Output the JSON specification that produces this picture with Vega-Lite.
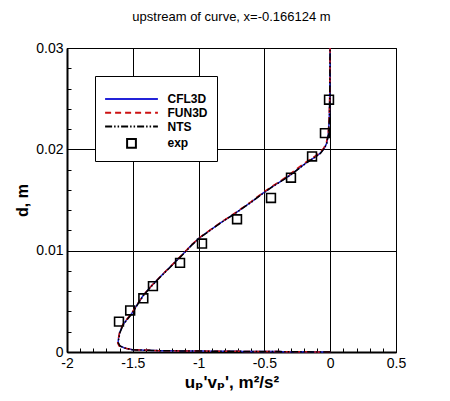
{
  "$schema": "https://vega.github.io/schema/vega-lite/v6.json",
  "width": 329,
  "height": 304,
  "autosize": {"type": "none"},
  "padding": {"left": 67, "top": 48, "right": 54, "bottom": 49},
  "background": "white",
  "title": {"text": "upstream of curve, x=-0.166124 m", "font": "Liberation Sans", "fontSize": 13, "fontWeight": "normal", "color": "black", "anchor": "middle", "baseline": "alphabetic", "offset": 7},
  "config": {
    "view": {"stroke": "black", "strokeWidth": 1},
    "axis": {
      "domainColor": "black", "domainWidth": 2,
      "tickColor": "black", "tickWidth": 1,
      "gridColor": "black", "gridWidth": 1,
      "labelFont": "Liberation Sans", "labelFontSize": 14, "labelColor": "black",
      "labelOverlap": false, "labelFlush": false,
      "titleFont": "Liberation Sans, DejaVu Sans", "titleFontWeight": "bold", "titleColor": "black"
    }
  },
  "resolve": {"axis": {"x": "independent", "y": "independent"}},
  "datasets": {
    "sim": [
      {"s": "CFL3D", "u": 0, "d": 0},
      {"s": "CFL3D", "u": -0.4, "d": 0.00004},
      {"s": "CFL3D", "u": -0.9, "d": 0.00008},
      {"s": "CFL3D", "u": -1.3, "d": 0.00013},
      {"s": "CFL3D", "u": -1.5, "d": 0.00022},
      {"s": "CFL3D", "u": -1.56, "d": 0.00038},
      {"s": "CFL3D", "u": -1.6, "d": 0.0006},
      {"s": "CFL3D", "u": -1.612, "d": 0.0009},
      {"s": "CFL3D", "u": -1.609, "d": 0.0013},
      {"s": "CFL3D", "u": -1.6, "d": 0.0019},
      {"s": "CFL3D", "u": -1.575, "d": 0.0027},
      {"s": "CFL3D", "u": -1.545, "d": 0.0032},
      {"s": "CFL3D", "u": -1.508, "d": 0.0038},
      {"s": "CFL3D", "u": -1.465, "d": 0.0047},
      {"s": "CFL3D", "u": -1.42, "d": 0.0056},
      {"s": "CFL3D", "u": -1.36, "d": 0.0065},
      {"s": "CFL3D", "u": -1.293, "d": 0.0074},
      {"s": "CFL3D", "u": -1.2, "d": 0.0086},
      {"s": "CFL3D", "u": -1.116, "d": 0.0097},
      {"s": "CFL3D", "u": -1.05, "d": 0.0106},
      {"s": "CFL3D", "u": -0.99, "d": 0.0113},
      {"s": "CFL3D", "u": -0.85, "d": 0.0126},
      {"s": "CFL3D", "u": -0.71, "d": 0.0138},
      {"s": "CFL3D", "u": -0.6, "d": 0.0148},
      {"s": "CFL3D", "u": -0.508, "d": 0.0157},
      {"s": "CFL3D", "u": -0.43, "d": 0.0164},
      {"s": "CFL3D", "u": -0.356, "d": 0.017},
      {"s": "CFL3D", "u": -0.3, "d": 0.0175},
      {"s": "CFL3D", "u": -0.24, "d": 0.0181},
      {"s": "CFL3D", "u": -0.179, "d": 0.0187},
      {"s": "CFL3D", "u": -0.12, "d": 0.0192},
      {"s": "CFL3D", "u": -0.077, "d": 0.0196},
      {"s": "CFL3D", "u": -0.045, "d": 0.0201},
      {"s": "CFL3D", "u": -0.027, "d": 0.0206},
      {"s": "CFL3D", "u": -0.014, "d": 0.0215},
      {"s": "CFL3D", "u": -0.007, "d": 0.023},
      {"s": "CFL3D", "u": -0.004, "d": 0.025},
      {"s": "CFL3D", "u": -0.002, "d": 0.0275},
      {"s": "CFL3D", "u": -0.001, "d": 0.03},
      {"s": "FUN3D", "u": 0, "d": 0},
      {"s": "FUN3D", "u": -0.4, "d": 0.00004},
      {"s": "FUN3D", "u": -0.9, "d": 0.00008},
      {"s": "FUN3D", "u": -1.3, "d": 0.00013},
      {"s": "FUN3D", "u": -1.5, "d": 0.00023},
      {"s": "FUN3D", "u": -1.565, "d": 0.0004},
      {"s": "FUN3D", "u": -1.605, "d": 0.0006},
      {"s": "FUN3D", "u": -1.615, "d": 0.0009},
      {"s": "FUN3D", "u": -1.61, "d": 0.0013},
      {"s": "FUN3D", "u": -1.601, "d": 0.0019},
      {"s": "FUN3D", "u": -1.577, "d": 0.0027},
      {"s": "FUN3D", "u": -1.547, "d": 0.0032},
      {"s": "FUN3D", "u": -1.51, "d": 0.0038},
      {"s": "FUN3D", "u": -1.467, "d": 0.0047},
      {"s": "FUN3D", "u": -1.421, "d": 0.0056},
      {"s": "FUN3D", "u": -1.361, "d": 0.0065},
      {"s": "FUN3D", "u": -1.294, "d": 0.0074},
      {"s": "FUN3D", "u": -1.201, "d": 0.0086},
      {"s": "FUN3D", "u": -1.118, "d": 0.0097},
      {"s": "FUN3D", "u": -1.052, "d": 0.0106},
      {"s": "FUN3D", "u": -0.992, "d": 0.0113},
      {"s": "FUN3D", "u": -0.853, "d": 0.0126},
      {"s": "FUN3D", "u": -0.714, "d": 0.0138},
      {"s": "FUN3D", "u": -0.605, "d": 0.0148},
      {"s": "FUN3D", "u": -0.514, "d": 0.0157},
      {"s": "FUN3D", "u": -0.437, "d": 0.0164},
      {"s": "FUN3D", "u": -0.364, "d": 0.017},
      {"s": "FUN3D", "u": -0.31, "d": 0.0175},
      {"s": "FUN3D", "u": -0.252, "d": 0.0181},
      {"s": "FUN3D", "u": -0.19, "d": 0.0187},
      {"s": "FUN3D", "u": -0.13, "d": 0.0192},
      {"s": "FUN3D", "u": -0.085, "d": 0.0196},
      {"s": "FUN3D", "u": -0.05, "d": 0.0201},
      {"s": "FUN3D", "u": -0.03, "d": 0.0206},
      {"s": "FUN3D", "u": -0.016, "d": 0.0215},
      {"s": "FUN3D", "u": -0.008, "d": 0.023},
      {"s": "FUN3D", "u": -0.004, "d": 0.025},
      {"s": "FUN3D", "u": -0.002, "d": 0.0275},
      {"s": "FUN3D", "u": -0.001, "d": 0.03},
      {"s": "NTS", "u": 0, "d": 0},
      {"s": "NTS", "u": -0.4, "d": 0.00004},
      {"s": "NTS", "u": -0.9, "d": 0.00008},
      {"s": "NTS", "u": -1.3, "d": 0.00013},
      {"s": "NTS", "u": -1.5, "d": 0.00022},
      {"s": "NTS", "u": -1.558, "d": 0.00038},
      {"s": "NTS", "u": -1.598, "d": 0.0006},
      {"s": "NTS", "u": -1.61, "d": 0.0009},
      {"s": "NTS", "u": -1.607, "d": 0.0013},
      {"s": "NTS", "u": -1.598, "d": 0.0019},
      {"s": "NTS", "u": -1.573, "d": 0.0027},
      {"s": "NTS", "u": -1.543, "d": 0.0032},
      {"s": "NTS", "u": -1.506, "d": 0.0038},
      {"s": "NTS", "u": -1.463, "d": 0.0047},
      {"s": "NTS", "u": -1.418, "d": 0.0056},
      {"s": "NTS", "u": -1.358, "d": 0.0065},
      {"s": "NTS", "u": -1.291, "d": 0.0074},
      {"s": "NTS", "u": -1.198, "d": 0.0086},
      {"s": "NTS", "u": -1.114, "d": 0.0097},
      {"s": "NTS", "u": -1.048, "d": 0.0106},
      {"s": "NTS", "u": -0.988, "d": 0.0113},
      {"s": "NTS", "u": -0.848, "d": 0.0126},
      {"s": "NTS", "u": -0.708, "d": 0.0138},
      {"s": "NTS", "u": -0.598, "d": 0.0148},
      {"s": "NTS", "u": -0.506, "d": 0.0157},
      {"s": "NTS", "u": -0.428, "d": 0.0164},
      {"s": "NTS", "u": -0.354, "d": 0.017},
      {"s": "NTS", "u": -0.298, "d": 0.0175},
      {"s": "NTS", "u": -0.238, "d": 0.0181},
      {"s": "NTS", "u": -0.177, "d": 0.0187},
      {"s": "NTS", "u": -0.118, "d": 0.0192},
      {"s": "NTS", "u": -0.075, "d": 0.0196},
      {"s": "NTS", "u": -0.044, "d": 0.0201},
      {"s": "NTS", "u": -0.026, "d": 0.0206},
      {"s": "NTS", "u": -0.013, "d": 0.0215},
      {"s": "NTS", "u": -0.006, "d": 0.023},
      {"s": "NTS", "u": -0.003, "d": 0.025},
      {"s": "NTS", "u": -0.002, "d": 0.0275},
      {"s": "NTS", "u": -0.001, "d": 0.03}
    ],
    "exp": [
      {"s": "exp", "u": -0.009, "d": 0.0249},
      {"s": "exp", "u": -0.04, "d": 0.0216},
      {"s": "exp", "u": -0.138, "d": 0.0193},
      {"s": "exp", "u": -0.298, "d": 0.0172},
      {"s": "exp", "u": -0.45, "d": 0.0152},
      {"s": "exp", "u": -0.708, "d": 0.0131},
      {"s": "exp", "u": -0.974, "d": 0.0107},
      {"s": "exp", "u": -1.141, "d": 0.0088},
      {"s": "exp", "u": -1.347, "d": 0.0065},
      {"s": "exp", "u": -1.42, "d": 0.0053},
      {"s": "exp", "u": -1.52, "d": 0.0041},
      {"s": "exp", "u": -1.605, "d": 0.003}
    ]
  },
  "layer": [
    {
      "data": {"name": "sim"},
      "mark": {"type": "line", "strokeWidth": 1.5},
      "encoding": {
        "x": {
          "field": "u", "type": "quantitative",
          "scale": {"domain": [-2, 0.5], "nice": false, "zero": false},
          "axis": {
            "orient": "bottom",
            "values": [-2, -1.5, -1, -0.5, 0, 0.5],
            "labelExpr": "'' + datum.value",
            "grid": true,
            "tickSize": -7,
            "labelPadding": 11,
            "title": "uₚ'vₚ', m²/s²",
            "titleFontSize": 17,
            "titlePadding": 4
          }
        },
        "y": {
          "field": "d", "type": "quantitative",
          "scale": {"domain": [0, 0.03], "nice": false, "zero": false},
          "axis": {
            "orient": "left",
            "values": [0, 0.01, 0.02, 0.03],
            "labelExpr": "'' + datum.value",
            "grid": true,
            "tickSize": -7,
            "labelPadding": 11,
            "title": "d, m",
            "titleFontSize": 16,
            "titlePadding": 5
          }
        },
        "color": {
          "field": "s", "type": "nominal",
          "scale": {"domain": ["CFL3D", "FUN3D", "NTS", "exp"], "range": ["#2323d8", "#cc1111", "#000000", "#000000"]},
          "legend": {
            "orient": "none", "legendX": 28, "legendY": 28,
            "title": " ", "titleFontSize": 6, "titlePadding": 2,
            "strokeColor": "black", "fillColor": "white", "padding": 9,
            "symbolSize": 64, "symbolStrokeWidth": 2, "symbolFillColor": "transparent", "symbolOffset": 21.5,
            "labelFont": "Liberation Sans", "labelFontSize": 12, "labelFontWeight": "bold", "labelColor": "black",
            "labelOffset": 30, "rowPadding": 1.8,
            "encode": {
              "labels": {
                "fontWeight": {"condition": {"test": "datum.value === 'exp'", "value": "normal"}, "value": "bold"}
              }
            }
          }
        },
        "strokeDash": {
          "field": "s", "type": "nominal",
          "scale": {"domain": ["CFL3D", "FUN3D", "NTS", "exp"], "range": [[1, 0], [6, 4], [7, 2, 1.5, 2, 1.5, 2], [1, 0]]}
        },
        "order": {"field": "d", "type": "quantitative"}
      }
    },
    {
      "data": {"name": "exp"},
      "mark": {"type": "point", "size": 64, "filled": false, "strokeWidth": 1.6, "opacity": 1},
      "encoding": {
        "x": {
          "field": "u", "type": "quantitative",
          "axis": {"orient": "bottom", "values": [-1.9, -1.8, -1.7, -1.6, -1.4, -1.3, -1.2, -1.1, -0.9, -0.8, -0.7, -0.6, -0.4, -0.3, -0.2, -0.1, 0.1, 0.2, 0.3, 0.4], "labels": false, "grid": false, "domain": false, "tickSize": -4, "title": null}
        },
        "y": {
          "field": "d", "type": "quantitative",
          "axis": {"orient": "left", "values": [0.002, 0.004, 0.006, 0.008, 0.012, 0.014, 0.016, 0.018, 0.022, 0.024, 0.026, 0.028], "labels": false, "grid": false, "domain": false, "tickSize": -4, "title": null}
        },
        "color": {"field": "s", "type": "nominal"},
        "shape": {
          "field": "s", "type": "nominal",
          "scale": {"domain": ["CFL3D", "FUN3D", "NTS", "exp"], "range": ["M-6.6,0H6.6", "M-6.6,0H6.6", "M-6.6,0H6.6", "M-1.1,-1.1H1.1V1.1H-1.1Z"]}
        }
      }
    }
  ]
}
